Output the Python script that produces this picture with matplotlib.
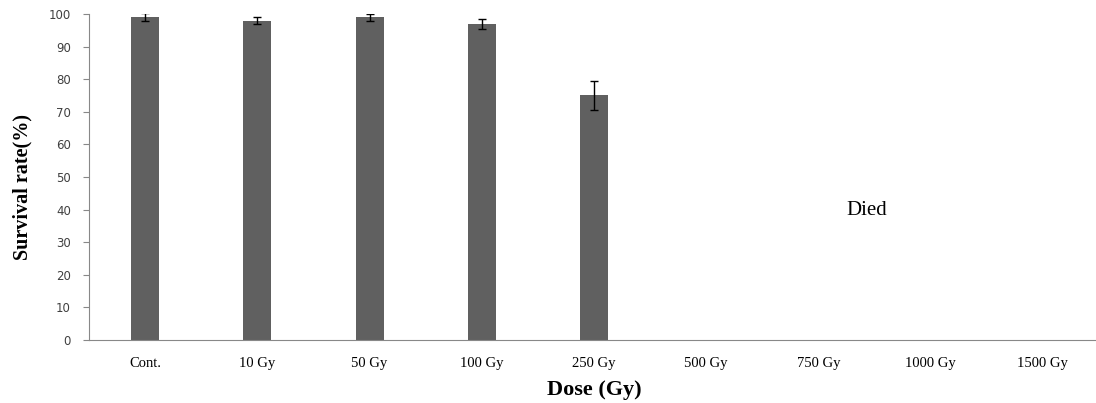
import matplotlib
matplotlib.use('Agg')
from matplotlib import pyplot as plt

# data
doses = ['Cont.', '10 Gy', '50 Gy', '100 Gy', '250 Gy', '500 Gy', '750 Gy', '1000 Gy', '1500 Gy']
survival = [99, 98, 99, 97, 75, 0, 0, 0, 0]
errors = [1.3, 1.2, 1.1, 1.5, 4.5, 0, 0, 0, 0]
died_label = 'Died'

fig = plt.figure(figsize=(10.96, 4.03), dpi=100)
ax = fig.add_axes([0.0812, 0.1563, 0.9215, 0.809])

x = list(range(len(doses)))
alive = [i for i in x if survival[i] > 0]
ax.bar([x[i] for i in alive], [survival[i] for i in alive], width=0.25, color='#606060',
       yerr=[errors[i] for i in alive], error_kw=dict(ecolor='black', elinewidth=1, capsize=3, capthick=1))

ax.set_xlim(-0.5, len(doses) - 0.5)
ax.set_ylim(0, 100)
ax.set_yticks(range(0, 101, 10))
ax.set_xticks(x)
ax.set_xticklabels(doses, family='Liberation Serif', fontsize=10.5)
for lab in ax.get_yticklabels():
    lab.set_fontsize(8.5)
    lab.set_color('#404040')
ax.tick_params(axis='y', length=4, color='#888888', pad=9)
ax.tick_params(axis='x', length=0, pad=12)

for s in ['top', 'right']:
    ax.spines[s].set_visible(False)
for s in ['left', 'bottom']:
    ax.spines[s].set_color('#888888')

ax.set_ylabel('Survival rate(%)', family='Liberation Serif', fontweight='bold', fontsize=14.5)
ax.yaxis.set_label_coords(-0.056, 0.47)
ax.set_xlabel('Dose (Gy)', family='Liberation Serif', fontweight='bold', fontsize=16)
ax.xaxis.set_label_coords(0.5, -0.122)
ax.text(6.43, 39.8, died_label, family='Liberation Serif', fontsize=15, ha='center', va='center')

fig.savefig('out.png', dpi=100)
